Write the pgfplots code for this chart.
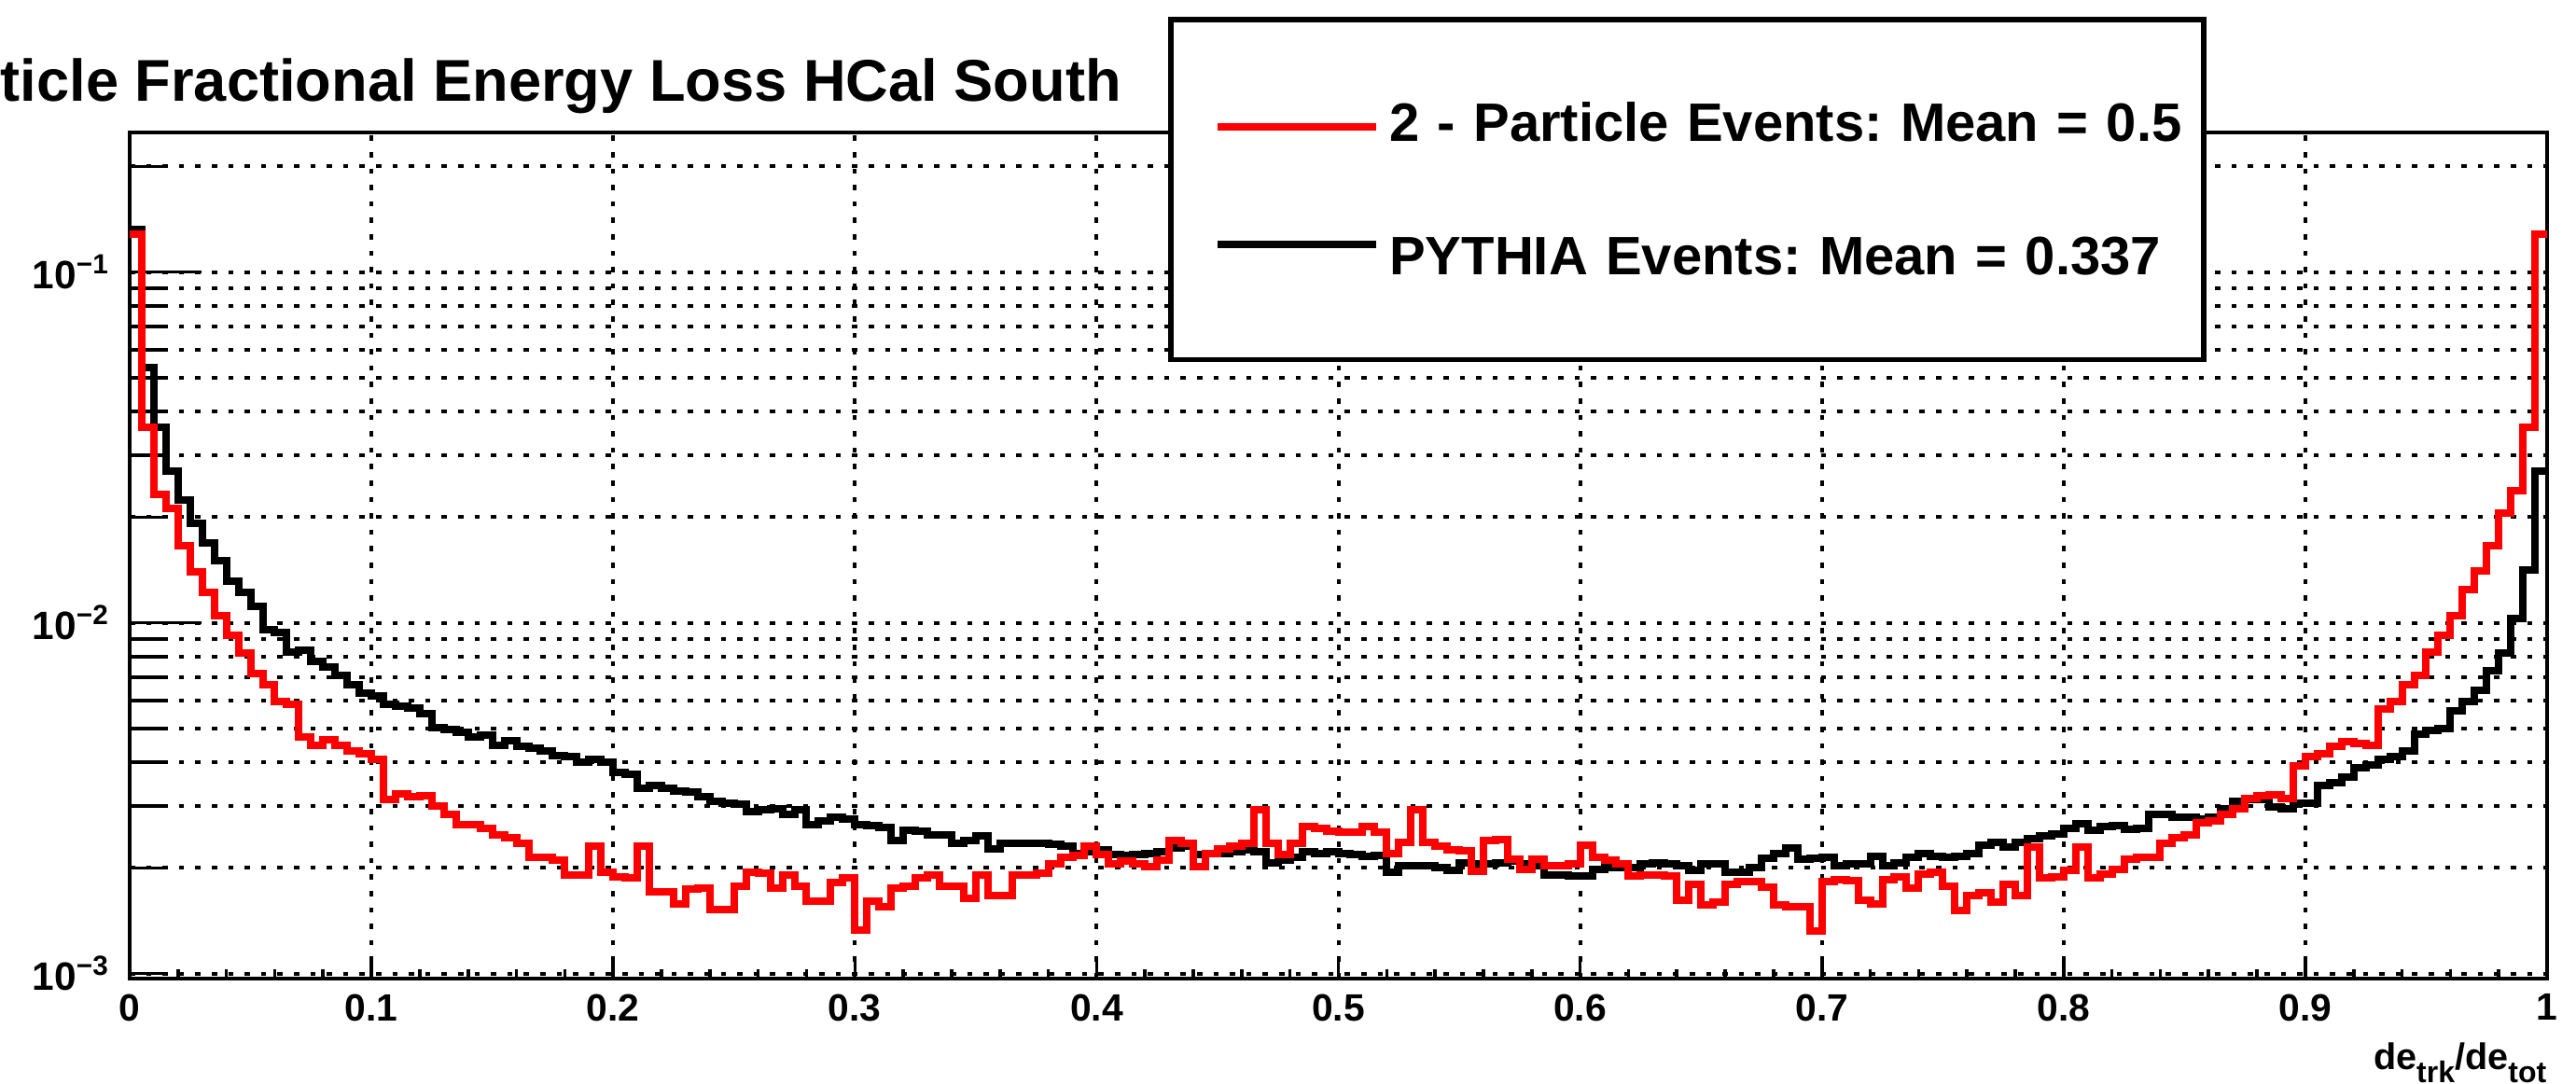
\documentclass[border=0pt]{standalone}
\usepackage{fontspec}
\setmainfont{Liberation Sans}
\usepackage{pgfplots}
\usepackage{pgfplotstable}
\pgfplotsset{compat=1.18}
\definecolor{rootred}{RGB}{255,0,0}
\frenchspacing
\pgfplotsset{
  imgred/.style={legend image code/.code={\draw[##1] (0pt,-1.1pt) -- (42.5pt,-1.1pt); \path (-11.5pt,0pt);}},
  imgblack/.style={legend image code/.code={\draw[##1] (0pt,3.3pt) -- (42.5pt,3.3pt); \path (-11.5pt,0pt);}},
}

% left bin edge, 2-particle (r), PYTHIA (b)
\pgfplotstableread{
x r b
0.000 0.128 0.132
0.005 0.0362 0.0535
0.010 0.0233 0.0360
0.015 0.0212 0.0271
0.020 0.01656 0.0224
0.025 0.01396 0.0192
0.030 0.01223 0.01685
0.035 0.0105 0.01506
0.040 0.0092 0.01318
0.045 0.0082 0.01223
0.050 0.00719 0.01112
0.055 0.00667 0.00955
0.060 0.00595 0.00937
0.065 0.00584 0.00827
0.070 0.00474 0.00836
0.075 0.00448 0.00777
0.080 0.00465 0.00747
0.085 0.00448 0.00706
0.090 0.00431 0.00667
0.095 0.00423 0.00630
0.100 0.00407 0.00618
0.105 0.00313 0.00584
0.110 0.00325 0.00580
0.115 0.00319 0.00573
0.120 0.00321 0.00552
0.125 0.00301 0.00502
0.130 0.00284 0.00497
0.135 0.00266 0.00487
0.140 0.00266 0.00474
0.145 0.00259 0.00479
0.150 0.00249 0.00448
0.155 0.00244 0.00461
0.160 0.00235 0.00445
0.165 0.00214 0.00440
0.170 0.00214 0.004313
0.175 0.00210 0.004185
0.180 0.00191 0.004153
0.185 0.00191 0.003999
0.190 0.00231 0.004075
0.195 0.00195 0.003999
0.200 0.00189 0.003736
0.205 0.00188 0.003707
0.210 0.00231 0.003373
0.215 0.00171 0.003437
0.220 0.00171 0.003373
0.225 0.00158 0.003310
0.230 0.00174 0.003285
0.235 0.00175 0.003187
0.240 0.00152 0.003092
0.245 0.00152 0.003069
0.250 0.00177 0.003046
0.255 0.00195 0.002899
0.260 0.00193 0.002932
0.265 0.00175 0.002954
0.270 0.00191 0.002845
0.275 0.00177 0.002932
0.280 0.00161 0.002656
0.285 0.00161 0.002718
0.290 0.00182 0.002792
0.295 0.00188 0.002760
0.300 0.00133 0.002656
0.305 0.00161 0.002636
0.310 0.00155 0.002616
0.315 0.00175 0.002398
0.320 0.00177 0.002558
0.325 0.00188 0.002539
0.330 0.00191 0.002491
0.335 0.00177 0.002491
0.340 0.00177 0.002353
0.345 0.00164 0.002398
0.350 0.00191 0.002463
0.355 0.00167 0.002266
0.360 0.00167 0.002353
0.365 0.00191 0.002353
0.370 0.00191 0.002353
0.375 0.00193 0.002353
0.380 0.00206 0.002335
0.385 0.00214 0.002309
0.390 0.00217 0.002198
0.395 0.00231 0.002223
0.400 0.00218 0.002249
0.405 0.00206 0.002182
0.410 0.00209 0.002166
0.415 0.00206 0.002182
0.420 0.00202 0.002198
0.425 0.00210 0.002223
0.430 0.00240 0.002283
0.435 0.00235 0.002309
0.440 0.00202 0.002182
0.445 0.00220 0.002198
0.450 0.00227 0.002198
0.455 0.00231 0.002223
0.460 0.00235 0.002249
0.465 0.00293 0.002223
0.470 0.00235 0.002062
0.475 0.00218 0.002101
0.480 0.00235 0.002141
0.485 0.00262 0.002223
0.490 0.00259 0.002198
0.495 0.00254 0.002223
0.500 0.002524 0.002205
0.505 0.002524 0.002188
0.510 0.002627 0.002164
0.515 0.002524 0.002176
0.520 0.002205 0.001943
0.525 0.002360 0.002034
0.530 0.002925 0.002034
0.535 0.002360 0.002034
0.540 0.002309 0.002006
0.545 0.002247 0.001964
0.550 0.002235 0.002072
0.555 0.001953 0.002061
0.560 0.002395 0.002061
0.565 0.002413 0.002072
0.570 0.002118 0.002089
0.575 0.001980 0.002061
0.580 0.002118 0.002034
0.585 0.002034 0.001911
0.590 0.002034 0.001911
0.595 0.002061 0.001901
0.600 0.002328 0.001901
0.605 0.002146 0.001980
0.610 0.002106 0.002006
0.615 0.002061 0.002006
0.620 0.001901 0.002006
0.625 0.001911 0.002061
0.630 0.001911 0.002072
0.635 0.001901 0.002061
0.640 0.001617 0.002034
0.645 0.001801 0.001964
0.650 0.001574 0.002050
0.655 0.001595 0.002061
0.660 0.001801 0.001943
0.665 0.001826 0.001943
0.670 0.001826 0.002006
0.675 0.001763 0.002130
0.680 0.001574 0.002205
0.685 0.001553 0.002284
0.690 0.001553 0.002118
0.695 0.001321 0.002130
0.700 0.001826 0.002146
0.705 0.001851 0.002034
0.710 0.001841 0.002050
0.715 0.001617 0.002061
0.720 0.001582 0.002164
0.725 0.001851 0.002034
0.730 0.001891 0.002072
0.735 0.001753 0.002146
0.740 0.001927 0.002205
0.745 0.001943 0.002164
0.750 0.001777 0.002146
0.755 0.001511 0.002164
0.760 0.001670 0.002205
0.765 0.001697 0.002328
0.770 0.001595 0.002360
0.775 0.001801 0.002296
0.780 0.001670 0.002360
0.785 0.002296 0.002425
0.790 0.001876 0.002477
0.795 0.001891 0.002505
0.800 0.001964 0.002592
0.805 0.002296 0.002680
0.810 0.001876 0.002557
0.815 0.001927 0.002627
0.820 0.001980 0.002641
0.825 0.002118 0.002570
0.830 0.00214 0.002587
0.835 0.00214 0.002845
0.840 0.00235 0.002845
0.845 0.00244 0.002792
0.850 0.00249 0.002792
0.855 0.00269 0.002760
0.860 0.00272 0.002792
0.865 0.00285 0.002954
0.870 0.00295 0.003092
0.875 0.00316 0.003128
0.880 0.00321 0.003128
0.885 0.00324 0.002977
0.890 0.00316 0.002954
0.895 0.00392 0.003069
0.900 0.00415 0.003069
0.905 0.00423 0.003437
0.910 0.00444 0.003502
0.915 0.00457 0.003638
0.920 0.00452 0.003851
0.925 0.00448 0.003924
0.930 0.00567 0.004075
0.935 0.00595 0.004153
0.940 0.00667 0.004313
0.945 0.00706 0.004800
0.950 0.00827 0.004929
0.955 0.00920 0.004984
0.960 0.0105 0.005623
0.965 0.01245 0.005950
0.970 0.0141 0.006416
0.975 0.01656 0.007318
0.980 0.0206 0.008195
0.985 0.0238 0.01028
0.990 0.0360 0.01418
0.995 0.128 0.0271
1.000 0.128 0.0271
}\histdata

\begin{document}
\begin{tikzpicture}
% long y-axis ticks (drawn underneath)
\begin{axis}[
  at={(0pt,0pt)}, anchor=south west,
  scale only axis, width=647.75pt, height=226.65pt,
  xmin=0, xmax=1, ymode=log, ymin=0.00097, ymax=0.25,
  tick align=inside,
  tick style={line width=0.9pt, black},
  axis line style={draw=none},
  xtick=\empty,
  ytick={0.01,0.1},
  minor ytick={0.001,0.002,0.003,0.004,0.005,0.006,0.007,0.008,0.009,0.02,0.03,0.04,0.05,0.06,0.07,0.08,0.09,0.2},
  yticklabels={,,},
  ytick pos=left,
  major tick length=19.25pt, minor tick length=9.75pt,
]
\end{axis}
% main axis
\begin{axis}[
  at={(0pt,0pt)}, anchor=south west,
  scale only axis, width=647.75pt, height=226.65pt,
  xmin=0, xmax=1, ymode=log, ymin=0.00097, ymax=0.25,
  tick align=inside,
  tick style={line width=0.9pt, black},
  axis line style={line width=1pt, black},
  xtick={0,0.1,0.2,0.3,0.4,0.5,0.6,0.7,0.8,0.9,1},
  xticklabels={0,0.1,0.2,0.3,0.4,0.5,0.6,0.7,0.8,0.9,1},
  minor x tick num=4,
  ytick={0.001,0.01,0.1},
  yticklabels={10\textsuperscript{−3},10\textsuperscript{−2},10\textsuperscript{−1}},
  minor ytick={0.002,0.003,0.004,0.005,0.006,0.007,0.008,0.009,0.02,0.03,0.04,0.05,0.06,0.07,0.08,0.09,0.2},
  tick pos=left,
  major tick length=5.5pt, minor tick length=2.5pt,
  xmajorgrids, ymajorgrids, yminorgrids,
  major grid style={line width=1pt, black, dash pattern=on 1.4pt off 3pt},
  minor grid style={line width=1pt, black, dash pattern=on 1.4pt off 3pt},
  xticklabel style={font=\fontsize{10.2}{12}\selectfont\bfseries, inner sep=0pt, anchor=north, yshift=-4.1pt},
  yticklabel style={font=\fontsize{10.6}{12}\selectfont\bfseries, inner sep=0pt, anchor=east, xshift=-5.1pt},
  xlabel={de\raisebox{-3.4pt}{\fontsize{8}{9}\selectfont trk}/de\raisebox{-3.4pt}{\fontsize{8}{9}\selectfont tot}},
  xlabel style={at={(axis description cs:1,0)}, anchor=base east, yshift=-24.6pt, inner sep=0pt, font=\fontsize{9.9}{11}\selectfont\bfseries},
  reverse legend,
  legend style={
    at={(0.42957,1.13677)}, anchor=north west,
    draw=black, line width=1.4pt, fill=white,
    inner xsep=0pt, inner ysep=17.7pt,
    row sep=15.8pt, column sep=2.6pt,
    cells={anchor=west},
    nodes={inner sep=0pt, text height=15pt, text depth=5pt, text width=218.25pt, align=left,
           font=\fontsize{14.5}{17}\selectfont\bfseries},
  },
]
\addplot[const plot mark left, black, line width=2pt, line join=miter, mark=none, imgblack]
  table[x=x, y=b] {\histdata};
\addlegendentry{PYTHIA Events: Mean = 0.337}
\addplot[const plot mark left, rootred, line width=2pt, line join=miter, mark=none, imgred]
  table[x=x, y=r] {\histdata};
\addlegendentry{2 - Particle Events: Mean = 0.5}
\end{axis}
\node[anchor=base west, inner sep=0pt, font=\fontsize{15.8}{18}\selectfont\bfseries]
  at (-34.75pt,234.9pt) {ticle Fractional Energy Loss HCal South};
\pgfresetboundingbox
\useasboundingbox (-34.75pt,-28.35pt) rectangle (655.5pt,262.15pt);
\end{tikzpicture}
\end{document}
